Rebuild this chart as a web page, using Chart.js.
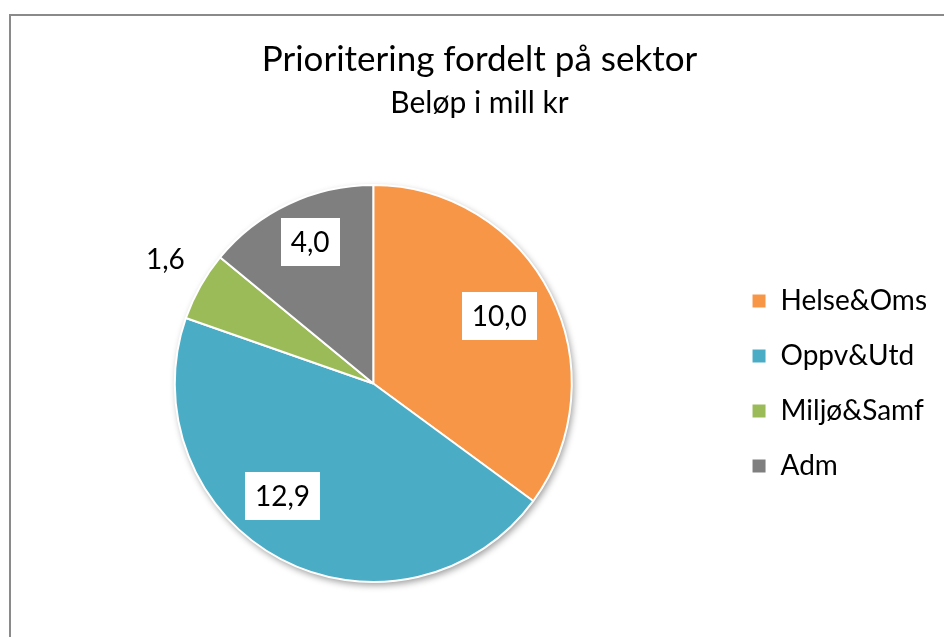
<!DOCTYPE html>
<html>
<head>
<meta charset="utf-8">
<script src="https://cdn.jsdelivr.net/npm/chart.js@4.4.0/dist/chart.umd.min.js"></script>
<style>
  html, body { margin: 0; padding: 0; background: #fff; overflow: hidden; width: 944px; height: 637px; }
  #frame { position: absolute; left: 9px; top: 14px; width: 2000px; height: 2000px; border-left: 2px solid #8a8a8a; border-top: 2px solid #8a8a8a; }
  #chart { position: absolute; left: 0; top: 0; }
</style>
</head>
<body>
<div id="frame"></div>
<canvas id="chart" width="964" height="637"></canvas>
<script>
const sectors = ['Helse&Oms', 'Oppv&Utd', 'Miljø&Samf', 'Adm'];
const amounts = [10.0, 12.9, 1.6, 4.0];
const sectorColors = ['#F79646', '#4BACC6', '#9BBB59', '#7F7F7F'];

// where each value label sits: fraction of radius, angle nudge (deg), boxed or not
const labelSpots = [
  { r: 0.72, a: -1.3, box: true },
  { r: 0.73, a: 11, box: true },
  { r: 1.22, a: 1.5, box: false },
  { r: 0.78, a: 1.2, box: true }
];

Chart.defaults.font.family = 'Lato, "Open Sans", sans-serif';
Chart.defaults.color = '#000';

const pieShadow = {
  id: 'pieShadow',
  beforeDatasetsDraw(chart) {
    const arc = chart.getDatasetMeta(0).data[0];
    if (!arc) return;
    const ctx = chart.ctx;
    ctx.save();
    ctx.shadowColor = 'rgba(0,0,0,0.4)';
    ctx.shadowBlur = 7;
    ctx.shadowOffsetX = 2;
    ctx.shadowOffsetY = 3;
    ctx.fillStyle = '#fff';
    ctx.beginPath();
    ctx.arc(arc.x, arc.y, arc.outerRadius, 0, Math.PI * 2);
    ctx.fill();
    ctx.restore();
  }
};

const valueLabels = {
  id: 'valueLabels',
  afterDatasetsDraw(chart) {
    const ctx = chart.ctx;
    const meta = chart.getDatasetMeta(0);
    ctx.save();
    ctx.font = '28px Lato, "Open Sans", sans-serif';
    ctx.textAlign = 'center';
    ctx.textBaseline = 'middle';
    meta.data.forEach((arc, i) => {
      const spot = labelSpots[i];
      const mid = (arc.startAngle + arc.endAngle) / 2 + spot.a * Math.PI / 180;
      const x = arc.x + Math.cos(mid) * arc.outerRadius * spot.r;
      const y = arc.y + Math.sin(mid) * arc.outerRadius * spot.r;
      const txt = amounts[i].toFixed(1).replace('.', ',');
      const w = ctx.measureText(txt).width;
      if (spot.box) {
        ctx.fillStyle = '#fff';
        ctx.fillRect(Math.round(x - w / 2 - 10), Math.round(y - 24), Math.round(w + 20), 48);
      }
      ctx.fillStyle = '#000';
      ctx.fillText(txt, x, y + 1);
    });
    ctx.restore();
  }
};

new Chart(document.getElementById('chart'), {
  type: 'pie',
  data: {
    labels: sectors,
    datasets: [{
      data: amounts,
      backgroundColor: sectorColors,
      borderColor: '#fff',
      borderWidth: 2
    }]
  },
  options: {
    responsive: false,
    animation: false,
    layout: { padding: { left: 22, right: 27, top: 0, bottom: 54 } },
    plugins: {
      title: {
        display: true,
        text: 'Prioritering fordelt på sektor',
        font: { size: 35, weight: 'normal', lineHeight: 1.2 },
        padding: { top: 39, bottom: 0 }
      },
      subtitle: {
        display: true,
        text: 'Beløp i mill kr',
        font: { size: 30, weight: 'normal', lineHeight: 1.2 },
        padding: { top: 4, bottom: 63 }
      },
      legend: {
        position: 'right',
        fullSize: false,
        labels: {
          boxWidth: 15,
          boxHeight: 15,
          padding: 27,
          font: { size: 28 },
          color: '#000'
        }
      },
      tooltip: { enabled: false }
    }
  },
  plugins: [pieShadow, valueLabels]
});
</script>
</body>
</html>
